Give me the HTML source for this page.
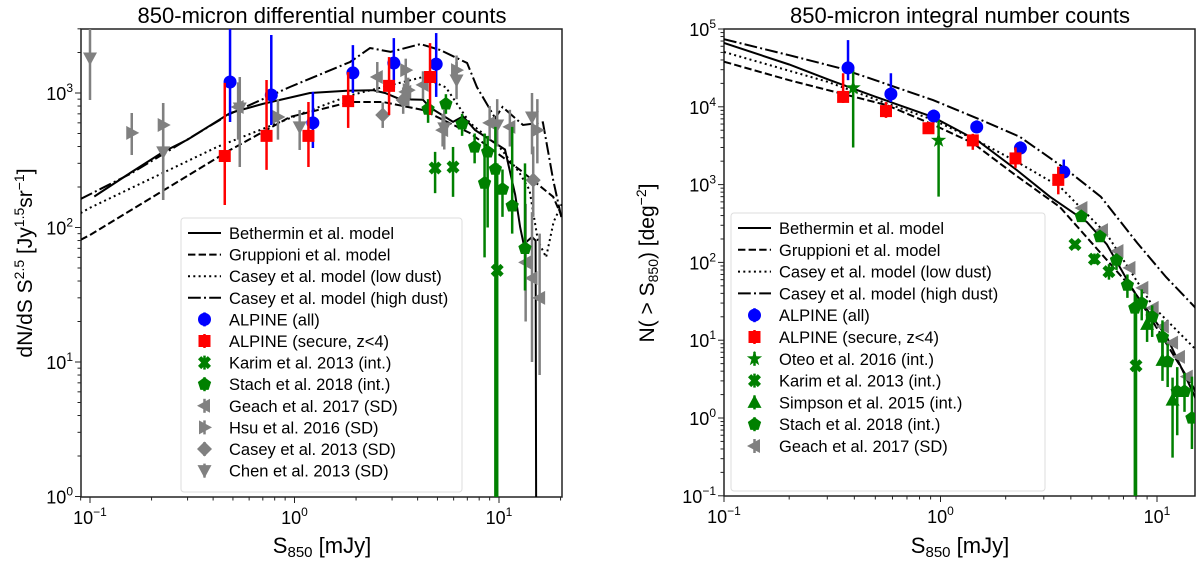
<!DOCTYPE html>
<html><head><meta charset="utf-8"><title>850-micron number counts</title>
<style>
html,body{margin:0;padding:0;background:#fff;}
svg{display:block;font-family:"Liberation Sans","DejaVu Sans",sans-serif;}
</style></head>
<body>
<svg id="chart" width="1200" height="562" viewBox="0 0 1200 562" xmlns="http://www.w3.org/2000/svg">
<defs>
<clipPath id="clipL"><rect x="81" y="29" width="481" height="468"/></clipPath>
<clipPath id="clipR"><rect x="724" y="29" width="471" height="467"/></clipPath>
</defs>
<text x="322" y="23" font-size="22" text-anchor="middle">850-micron differential number counts</text>
<text x="960" y="23" font-size="22" text-anchor="middle">850-micron integral number counts</text>
<text x="322" y="553" font-size="22" text-anchor="middle">S<tspan font-size="15" dy="4">850</tspan><tspan dy="-4"> [mJy]</tspan></text>
<text x="960" y="553" font-size="22" text-anchor="middle">S<tspan font-size="15" dy="4">850</tspan><tspan dy="-4"> [mJy]</tspan></text>
<text transform="translate(32,263) rotate(-90)" font-size="21" text-anchor="middle">dN/dS S<tspan font-size="14" dy="-8">2.5</tspan><tspan dy="8"> [Jy</tspan><tspan font-size="14" dy="-8">1.5</tspan><tspan dy="8">sr</tspan><tspan font-size="14" dy="-8">−1</tspan><tspan dy="8">]</tspan></text>
<text transform="translate(654,263) rotate(-90)" font-size="21" text-anchor="middle">N( &gt; S<tspan font-size="14" dy="4">850</tspan><tspan dy="-4">) [deg</tspan><tspan font-size="14" dy="-8">−2</tspan><tspan dy="8">]</tspan></text>
</svg>
<script>
// ---------- LEFT PANEL DATA (differential counts) ----------
const bethS=[0.105,0.157,0.228,0.3,0.484,0.7,1.19,1.8,2.42,2.77,3.28,4.25,4.6,5.96,6.67,7.64,10.7,12.0,12.7,13.2,14.5,15.1,15.2];
const bethV=[170,254,365,450,710,830,1000,1040,1050,1000,900,890,780,610,670,530,380,175,100,75,85,80,0.5];
const grupS=[0.09,0.1,0.484,0.95,1.87,2.71,4.25,7.2,12.7,18.4,20.3];
const grupV=[81,88,377,663,857,857,748,504,267,169,120];
const caseyLowS=[0.09,0.1,0.418,1.10,1.87,4.25,5.5,7.2,10,12.5,14.1,15.5,17,18.5,20.3];
const caseyLowV=[128,140,397,710,960,1315,1100,600,400,260,190,80,60,110,150];
const caseyHighS=[0.09,0.157,0.484,0.95,1.87,2.34,2.95,4.13,5.14,6.98,7.8,9.58,10.4,13.1,16.4,18.4,20.3];
const caseyHighV=[163,250,700,1108,1700,2160,2020,2310,2090,1670,1108,650,787,578,605,225,114];

const lAllS=[0.484,0.77,1.23,1.93,3.06,4.93];
const lAllV=[1207,967,600,1410,1670,1640];
const lAllLo=[609,578,390,1000,1090,935];
const lAllHi=[5000,2700,1020,2270,2560,2790];
const lSecS=[0.456,0.73,1.17,1.83,2.9,4.6];
const lSecV=[340,480,480,870,1130,1315];
const lSecLo=[147,268,282,550,686,686];
const lSecHi=[1190,1250,857,1430,1850,2350];
const lKarS=[4.87,5.96,9.8];
const lKarV=[277,282,48];
const lKarLo=[180,169,0.5];
const lKarHi=[365,397,300];
const lStaS=[4.5,5.5,6.6,7.6,8.8,8.5,9.6,10.4,11.6,13.4];
const lStaV=[760,830,590,397,365,214,272,193,145,70];
const lStaLo=[600,700,480,300,100,60,0.5,120,90,34];
const lStaHi=[900,980,700,500,480,500,560,270,560,300];
const lGeaS=[0.53,2.54,3.5,4.25,5.3,9.0,11.3,13.5,14.5,15.8];
const lGeaV=[787,1315,1020,1150,530,600,560,55,42,30];
const lGeaLo=[450,1000,800,900,400,450,400,20,10,8];
const lGeaHi=[1200,1700,1300,1450,700,800,750,150,130,90];
const lHsuS=[0.16,0.228,0.83,3.5,3.6,6.2,15.4];
const lHsuV=[505,578,663,1480,1050,1480,530];
const lHsuLo=[346,160,450,1200,800,1150,300];
const lHsuHi=[710,843,900,1800,1300,1900,900];
const lCasS=[2.7,3.4,14.7];
const lCasV=[686,887,225];
const lCasLo=[550,700,120];
const lCasHi=[850,1100,400];
const lCheS=[0.1,0.228,0.54,1.06,5.4,6.2,9.8,14.5];
const lCheV=[1820,365,774,560,550,1250,578,663];
const lCheLo=[887,160,282,377,380,900,400,350];
const lCheHi=[5000,843,1315,747,750,1700,900,1000];

// ---------- RIGHT PANEL DATA (integral counts) ----------
const rBethS=[0.1,0.2,0.309,0.5,0.923,1.5,2.25,3.2,4.75,5.87,7.74,11.1,14.7,15.5];
const rBethV=[66000,35000,22000,13500,7400,3600,1540,700,330,170,44,11,2.1,1.5];
const rGrupS=[0.1,0.2,0.566,0.923,1.41,2.2,3.56,7.74,14.7,15.5];
const rGrupV=[38000,22000,10500,5900,3430,1350,515,45,2.5,1.8];
const rCLowS=[0.1,0.3,0.5,0.923,1.5,2.3,3.56,5.87,9.6,14.7,15.5];
const rCLowV=[50600,21000,12500,6800,3600,1900,940,230,27,8.2,7];
const rCHighS=[0.1,0.2,0.34,0.5,0.923,1.5,2.33,3.84,5.5,8.1,11,14.7,15.5];
const rCHighV=[74000,46000,31600,22000,12200,7000,4100,1540,700,178,65,28,24];

const rAllS=[0.374,0.59,0.93,1.47,2.34,3.71];
const rAllV=[31600,14600,7600,5500,2950,1450];
const rAllLo=[22000,11500,6300,4600,2500,1200];
const rAllHi=[72000,27000,9200,6700,3600,2100];
const rSecS=[0.355,0.56,0.88,1.41,2.22,3.5];
const rSecV=[13400,8800,5300,3700,2170,1150];
const rSecLo=[11200,7200,4600,2800,1640,750];
const rSecHi=[27000,11500,6400,4500,3000,1700];
const rOteS=[0.395,0.98];
const rOteV=[17500,3700];
const rOteLo=[3000,700];
const rOteHi=[30000,6800];
const rKarS=[4.18,5.14,6.0,8.0];
const rKarV=[170,110,76,4.7];
const rKarLo=[150,95,60,0.05];
const rKarHi=[190,130,95,36];
const rSimS=[9.0,10.6,11.8];
const rSimV=[16,5.5,1.7];
const rSimLo=[9.5,3,0.31];
const rSimHi=[24,14,3.3];
const rStaS=[4.47,5.45,6.5,7.3,7.9,8.5,9.5,10.6,11.2,12.4,13.4,14.5];
const rStaV=[390,215,107,51,26,30,20,11,5.3,2.2,2.2,1.0];
const rStaLo=[360,190,80,35,0.05,18,11,6,2.5,0.6,1.2,0.4];
const rStaHi=[420,240,130,70,40,45,28,18,9,4.5,3.8,3.4];
const rGeaS=[4.5,5.6,6.6,7.5,8.6,9.6,10.7,11.8,12.7,13.8];
const rGeaV=[500,260,140,85,47,26,15,9.3,6.1,3.4];

// ---------- AXES ----------
const L={x0:90,dx:204.5,y0:93,dy:134.5,left:81,right:562,top:29,bottom:497};
const R={x0:724,dx:216.5,y0:29,dy:77.8,left:724,right:1195,top:29,bottom:496};
function xL(s){return L.x0+(Math.log10(s)+1)*L.dx;}
function yL(v){return L.y0+(3-Math.log10(v))*L.dy;}
function xR(s){return R.x0+(Math.log10(s)+1)*R.dx;}
function yR(v){return R.y0+(5-Math.log10(v))*R.dy;}

const NS='http://www.w3.org/2000/svg';
const svg=document.getElementById('chart');
function el(tag,attrs,parent){const e=document.createElementNS(NS,tag);for(const k in attrs)e.setAttribute(k,attrs[k]);(parent||svg).appendChild(e);return e;}

const DASH={solid:'',dashed:'7.4,3.2',dotted:'2,3.3',dashdot:'12.8,3.2,2,3.2'};
function shapePath(shape){
  switch(shape){
    case 'circle': return null;
    case 'square': return 'M-6,-6H6V6H-6Z';
    case 'X': return 'M-6.5,-3.3L-3.3,-6.5L0,-3.3L3.3,-6.5L6.5,-3.3L3.3,0L6.5,3.3L3.3,6.5L0,3.3L-3.3,6.5L-6.5,3.3L-3.3,0Z';
    case 'pent': {let p='';for(let i=0;i<5;i++){const a=-Math.PI/2+i*2*Math.PI/5;p+=(i?'L':'M')+(7*Math.cos(a)).toFixed(2)+','+(7*Math.sin(a)).toFixed(2);}return p+'Z';}
    case 'star': {let p='';for(let i=0;i<10;i++){const r=i%2?3.2:8;const a=-Math.PI/2+i*Math.PI/5;p+=(i?'L':'M')+(r*Math.cos(a)).toFixed(2)+','+(r*Math.sin(a)).toFixed(2);}return p+'Z';}
    case 'up': return 'M0,-7.5L7,5.5L-7,5.5Z';
    case 'down': return 'M0,7.5L7,-5.5L-7,-5.5Z';
    case 'left': return 'M-7.5,0L5.5,-7L5.5,7Z';
    case 'right': return 'M7.5,0L-5.5,-7L-5.5,7Z';
    case 'diamond': return 'M0,-7.5L7.5,0L0,7.5L-7.5,0Z';
  }
}
function marker(shape,x,y,color,parent){
  if(shape==='circle') return el('circle',{cx:x,cy:y,r:6.5,fill:color},parent);
  return el('path',{d:shapePath(shape),transform:'translate('+x+','+y+')',fill:color},parent);
}

function drawModel(S,V,fx,fy,style,clip,name){
  const d=S.map((s,i)=>(i?'L':'M')+fx(s).toFixed(1)+','+fy(V[i]).toFixed(1)).join('');
  const p=el('path',{d:d,fill:'none',stroke:'#000','stroke-width':2,'stroke-dasharray':DASH[style],'clip-path':'url(#'+clip+')'});
  
  
}
function drawPoints(S,V,Lo,Hi,fx,fy,shape,color,clip,name){
  const g=el('g',{'clip-path':'url(#'+clip+')'});
  
  
  S.forEach((s,i)=>{
    const x=fx(s),y=fy(V[i]);
    if(Lo&&Hi){
      const eb=el('line',{x1:x,x2:x,y1:fy(Hi[i]),y2:fy(Lo[i]),stroke:color,'stroke-width':2.5},g);
      
      
    }
    const m=marker(shape,x,y,color,g);
    
    
  });
}

function drawAxes(P,fx,fy,xmin,xmax,ymin,ymax,prefix){
  const frame=el('rect',{x:P.left,y:P.top,width:P.right-P.left,height:P.bottom-P.top,fill:'none',stroke:'#222','stroke-width':1.5});
  
  
  const ax=el('g',{});
  
  
  for(let e=Math.floor(Math.log10(xmin));e<=Math.ceil(Math.log10(xmax));e++){
    for(let m=1;m<10;m++){
      const s=m*Math.pow(10,e); if(s<xmin*0.999||s>xmax*1.001) continue;
      const x=fx(s);
      el('line',{x1:x,x2:x,y1:P.bottom,y2:P.bottom+(m===1?6:3.5),stroke:'#222','stroke-width':1},ax);
      if(m===1){
        const t=el('text',{x:x,y:P.bottom+27,'font-size':18,'text-anchor':'middle'},ax);
        t.innerHTML='10<tspan font-size="12" dy="-8">'+(e<0?'−'+(-e):e)+'</tspan>';
        
        
      }
    }
  }
  for(let e=Math.floor(Math.log10(ymin));e<=Math.ceil(Math.log10(ymax));e++){
    for(let m=1;m<10;m++){
      const v=m*Math.pow(10,e); if(v<ymin*0.999||v>ymax*1.001) continue;
      const y=fy(v);
      el('line',{x1:P.left,x2:P.left-(m===1?6:3.5),y1:y,y2:y,stroke:'#222','stroke-width':1},ax);
      if(m===1){
        const t=el('text',{x:P.left-8,y:y+7,'font-size':18,'text-anchor':'end'},ax);
        t.innerHTML='10<tspan font-size="12" dy="-8">'+(e<0?'−'+(-e):e)+'</tspan>';
        
        
      }
    }
  }
}

drawAxes(L,xL,yL,0.09,20.3,1,3000,'left');
drawAxes(R,xR,yR,0.1,15.5,0.1,100000,'right');

drawModel(bethS,bethV,xL,yL,'solid','clipL','left-bethermin-model-line');
drawModel(grupS,grupV,xL,yL,'dashed','clipL','left-gruppioni-model-line');
drawModel(caseyLowS,caseyLowV,xL,yL,'dotted','clipL','left-casey-low-dust-line');
drawModel(caseyHighS,caseyHighV,xL,yL,'dashdot','clipL','left-casey-high-dust-line');
drawPoints(lCheS,lCheV,lCheLo,lCheHi,xL,yL,'down','#808080','clipL','left-chen-2013');
drawPoints(lCasS,lCasV,lCasLo,lCasHi,xL,yL,'diamond','#808080','clipL','left-casey-2013');
drawPoints(lHsuS,lHsuV,lHsuLo,lHsuHi,xL,yL,'right','#808080','clipL','left-hsu-2016');
drawPoints(lGeaS,lGeaV,lGeaLo,lGeaHi,xL,yL,'left','#808080','clipL','left-geach-2017');
drawPoints(lStaS,lStaV,lStaLo,lStaHi,xL,yL,'pent','#008000','clipL','left-stach-2018');
drawPoints(lKarS,lKarV,lKarLo,lKarHi,xL,yL,'X','#008000','clipL','left-karim-2013');
drawPoints(lAllS,lAllV,lAllLo,lAllHi,xL,yL,'circle','#0000ff','clipL','left-alpine-all');
drawPoints(lSecS,lSecV,lSecLo,lSecHi,xL,yL,'square','#ff0000','clipL','left-alpine-secure');

drawModel(rBethS,rBethV,xR,yR,'solid','clipR','right-bethermin-model-line');
drawModel(rGrupS,rGrupV,xR,yR,'dashed','clipR','right-gruppioni-model-line');
drawModel(rCLowS,rCLowV,xR,yR,'dotted','clipR','right-casey-low-dust-line');
drawModel(rCHighS,rCHighV,xR,yR,'dashdot','clipR','right-casey-high-dust-line');
drawPoints(rGeaS,rGeaV,null,null,xR,yR,'left','#808080','clipR','right-geach-2017');
drawPoints(rStaS,rStaV,rStaLo,rStaHi,xR,yR,'pent','#008000','clipR','right-stach-2018');
drawPoints(rSimS,rSimV,rSimLo,rSimHi,xR,yR,'up','#008000','clipR','right-simpson-2015');
drawPoints(rKarS,rKarV,rKarLo,rKarHi,xR,yR,'X','#008000','clipR','right-karim-2013');
drawPoints(rOteS,rOteV,rOteLo,rOteHi,xR,yR,'star','#008000','clipR','right-oteo-2016');
drawPoints(rAllS,rAllV,rAllLo,rAllHi,xR,yR,'circle','#0000ff','clipR','right-alpine-all');
drawPoints(rSecS,rSecV,rSecLo,rSecHi,xR,yR,'square','#ff0000','clipR','right-alpine-secure');

const legLeftLabels=['Bethermin et al. model','Gruppioni et al. model','Casey et al. model (low dust)','Casey et al. model (high dust)','ALPINE (all)','ALPINE (secure, z<4)','Karim et al. 2013 (int.)','Stach et al. 2018 (int.)','Geach et al. 2017 (SD)','Hsu et al. 2016 (SD)','Casey et al. 2013 (SD)','Chen et al. 2013 (SD)'];
const legLeftKinds=['solid','dashed','dotted','dashdot','circle','square','X','pent','left','right','diamond','down'];
const legLeftColors=['#000','#000','#000','#000','#0000ff','#ff0000','#008000','#008000','#808080','#808080','#808080','#808080'];
const legRightLabels=['Bethermin et al. model','Gruppioni et al. model','Casey et al. model (low dust)','Casey et al. model (high dust)','ALPINE (all)','ALPINE (secure, z<4)','Oteo et al. 2016 (int.)','Karim et al. 2013 (int.)','Simpson et al. 2015 (int.)','Stach et al. 2018 (int.)','Geach et al. 2017 (SD)'];
const legRightKinds=['solid','dashed','dotted','dashdot','circle','square','star','X','up','pent','left'];
const legRightColors=['#000','#000','#000','#000','#0000ff','#ff0000','#008000','#008000','#008000','#008000','#808080'];

function legend(x,y,w,h,labels,kinds,colors,rowH,prefix){
  const g=el('g',{});
  
  
  el('rect',{x:x,y:y,width:w,height:h,rx:3,fill:'#fff','fill-opacity':0.85,stroke:'#ddd','stroke-width':1},g);
  labels.forEach((lab,i)=>{
    const cy=y+15+i*rowH, hx=x+7;
    const it=el('g',{},g);
    
    
    const k=kinds[i];
    if(DASH[k]!==undefined){
      el('line',{x1:hx,x2:hx+33,y1:cy,y2:cy,stroke:'#000','stroke-width':2,'stroke-dasharray':DASH[k]},it);
    } else {
      el('line',{x1:hx+16.5,x2:hx+16.5,y1:cy-7,y2:cy+7,stroke:colors[i],'stroke-width':2.5},it);
      marker(k,hx+16.5,cy,colors[i],it);
    }
    const t=el('text',{x:x+48,y:cy+6,'font-size':16.5},it);
    t.textContent=lab;
  });
}
legend(181,218,281,274,legLeftLabels,legLeftKinds,legLeftColors,21.6,'left');
legend(731,213,314,278,legRightLabels,legRightKinds,legRightColors,21.8,'right');
</script>
</body></html>
